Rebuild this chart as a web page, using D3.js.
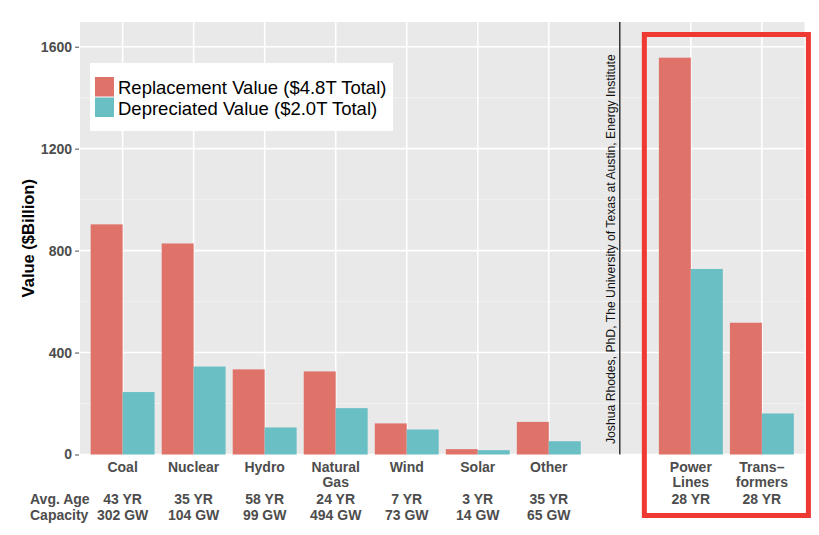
<!DOCTYPE html>
<html>
<head>
<meta charset="utf-8">
<script src="https://cdn.jsdelivr.net/npm/d3@7"></script>
<style>
  body { margin: 0; background: #fff; }
  text { font-family: "Liberation Sans", Arial, Helvetica, sans-serif; }
</style>
</head>
<body>
<div id="chart"></div>
<script>
// Chart data
var categories = ["Coal", "Nuclear", "Hydro", "Natural Gas", "Wind", "Solar", "Other", "", "Power Lines", "Transformers"];
var categoryLines = [["Coal"], ["Nuclear"], ["Hydro"], ["Natural", "Gas"], ["Wind"], ["Solar"], ["Other"], [], ["Power", "Lines"], ["Trans\u2013", "formers"]];
var replacementValue = [903, 828, 334, 326, 122, 21, 128, 0, 1557, 517];
var depreciatedValue = [245, 345, 106, 182, 98, 17, 52, 0, 728, 161];
var avgAge = ["43 YR", "35 YR", "58 YR", "24 YR", "7 YR", "3 YR", "35 YR", "", "28 YR", "28 YR"];
var capacity = ["302 GW", "104 GW", "99 GW", "494 GW", "73 GW", "14 GW", "65 GW", "", "", ""];
var yTicks = [0, 400, 800, 1200, 1600];
var yMinorTicks = [200, 600, 1000, 1400];
var seriesNames = ["Replacement Value ($4.8T Total)", "Depreciated Value ($2.0T Total)"];
var credit = "Joshua Rhodes, PhD, The University of Texas at Austin, Energy Institute";

var svgWidth = 819;
var svgHeight = 535;

var panel = { left: 80, right: 804.5, top: 22, bottom: 454.5 };
var colors = ["#DF736A", "#6ABFC4"];
var axisGrey = "#4D4D4D";

var svg = d3.select("#chart")
  .append("svg")
  .attr("width", svgWidth)
  .attr("height", svgHeight);

var x = d3.scaleBand()
  .domain(d3.range(categories.length))
  .range([panel.left, panel.right])
  .paddingInner(0)
  .paddingOuter(0.1);

var xSub = d3.scaleBand()
  .domain([0, 1])
  .range([0, x.bandwidth() * 0.9]);

var y = d3.scaleLinear()
  .domain([0, 1697])
  .range([panel.bottom, panel.top]);

// panel background
svg.append("rect")
  .attr("x", panel.left)
  .attr("y", panel.top)
  .attr("width", panel.right - panel.left)
  .attr("height", panel.bottom - panel.top)
  .attr("fill", "#E9E9E9");

// grid lines
svg.append("g").selectAll("line")
  .data(yMinorTicks)
  .enter()
  .append("line")
  .attr("x1", panel.left)
  .attr("x2", panel.right)
  .attr("y1", d => y(d))
  .attr("y2", d => y(d))
  .attr("stroke", "#F4F4F4")
  .attr("stroke-width", 0.8);

svg.append("g").selectAll("line")
  .data(yTicks)
  .enter()
  .append("line")
  .attr("x1", panel.left)
  .attr("x2", panel.right)
  .attr("y1", d => y(d))
  .attr("y2", d => y(d))
  .attr("stroke", "#fff")
  .attr("stroke-width", 1.6);

svg.append("g").selectAll("line")
  .data(d3.range(categories.length))
  .enter()
  .append("line")
  .attr("x1", d => x(d) + x.bandwidth() / 2)
  .attr("x2", d => x(d) + x.bandwidth() / 2)
  .attr("y1", panel.top)
  .attr("y2", panel.bottom)
  .attr("stroke", "#fff")
  .attr("stroke-width", 1.6);

// bars
var series = [replacementValue, depreciatedValue];
series.forEach(function(values, s) {
  svg.append("g").selectAll("rect")
    .data(values)
    .enter()
    .append("rect")
    .attr("x", (d, i) => x(i) + x.bandwidth() * 0.05 + xSub(s))
    .attr("y", d => y(d))
    .attr("width", xSub.bandwidth())
    .attr("height", d => y(0) - y(d))
    .attr("fill", colors[s]);
});

// divider line and credit
var blankIndex = categories.indexOf("");
var dividerX = x(blankIndex) + x.bandwidth() / 2;
svg.append("line")
  .attr("x1", dividerX)
  .attr("x2", dividerX)
  .attr("y1", panel.top)
  .attr("y2", panel.bottom)
  .attr("stroke", "#111")
  .attr("stroke-width", 1.3);

svg.append("text")
  .attr("transform", `translate(${dividerX - 5}, 444) rotate(-90)`)
  .attr("font-size", 12.2)
  .attr("fill", "#111")
  .text(credit);

// y axis
var leftAxis = d3.axisLeft(y)
  .tickValues(yTicks)
  .tickFormat(d3.format("d"))
  .tickSize(4)
  .tickPadding(3);

var yAxis = svg.append("g")
  .attr("transform", `translate(${panel.left - 1}, 0)`)
  .call(leftAxis);
yAxis.select(".domain").remove();
yAxis.selectAll("line").attr("stroke", axisGrey);
yAxis.selectAll("text")
  .attr("font-size", 14)
  .attr("font-weight", "bold")
  .attr("fill", axisGrey)
  .style("font-family", "'Liberation Sans', Arial, sans-serif");

svg.append("text")
  .attr("transform", `translate(34, ${(panel.top + panel.bottom) / 2}) rotate(-90)`)
  .attr("text-anchor", "middle")
  .attr("font-size", 16.5)
  .attr("font-weight", "bold")
  .attr("fill", "#000")
  .text("Value ($Billion)");

// category labels
var labelGroup = svg.append("g")
  .attr("font-size", 14)
  .attr("font-weight", "bold")
  .attr("fill", axisGrey)
  .attr("text-anchor", "middle");

labelGroup.selectAll("text.cat")
  .data(categoryLines)
  .enter()
  .append("text")
  .attr("class", "cat")
  .attr("x", (d, i) => x(i) + x.bandwidth() / 2)
  .attr("y", 471.5)
  .selectAll("tspan")
  .data(d => d)
  .enter()
  .append("tspan")
  .attr("x", function() { return this.parentNode.getAttribute("x"); })
  .attr("dy", (d, j) => j === 0 ? 0 : 15.5)
  .text(d => d);

labelGroup.selectAll("text.age")
  .data(avgAge)
  .enter()
  .append("text")
  .attr("class", "age")
  .attr("x", (d, i) => x(i) + x.bandwidth() / 2)
  .attr("y", 504)
  .text(d => d);

labelGroup.selectAll("text.cap")
  .data(capacity)
  .enter()
  .append("text")
  .attr("class", "cap")
  .attr("x", (d, i) => x(i) + x.bandwidth() / 2)
  .attr("y", 520)
  .text(d => d);

svg.append("text")
  .attr("x", 30)
  .attr("y", 504)
  .attr("font-size", 14)
  .attr("font-weight", "bold")
  .attr("fill", axisGrey)
  .text("Avg. Age");

svg.append("text")
  .attr("x", 30)
  .attr("y", 520)
  .attr("font-size", 14)
  .attr("font-weight", "bold")
  .attr("fill", axisGrey)
  .text("Capacity");

// legend
var legend = svg.append("g");
legend.append("rect")
  .attr("x", 90)
  .attr("y", 63)
  .attr("width", 303)
  .attr("height", 68)
  .attr("fill", "#fff");

legend.selectAll("rect.key")
  .data(seriesNames)
  .enter()
  .append("rect")
  .attr("class", "key")
  .attr("x", 95)
  .attr("y", (d, i) => 77 + i * 20.5)
  .attr("width", 19)
  .attr("height", 19.5)
  .attr("fill", (d, i) => colors[i]);

legend.selectAll("text")
  .data(seriesNames)
  .enter()
  .append("text")
  .attr("x", 118)
  .attr("y", (d, i) => 94 + i * 20.5)
  .attr("font-size", 18.5)
  .attr("fill", "#000")
  .text(d => d);

// red highlight box round the grid categories
var boxLeft = x(blankIndex + 1) - 11;
var boxRight = x(categories.length - 1) + x.bandwidth() + 11;
svg.append("rect")
  .attr("x", boxLeft)
  .attr("y", 34.5)
  .attr("width", boxRight - boxLeft)
  .attr("height", 481)
  .attr("fill", "none")
  .attr("stroke", "#EE3A33")
  .attr("stroke-width", 5);
</script>
</body>
</html>
